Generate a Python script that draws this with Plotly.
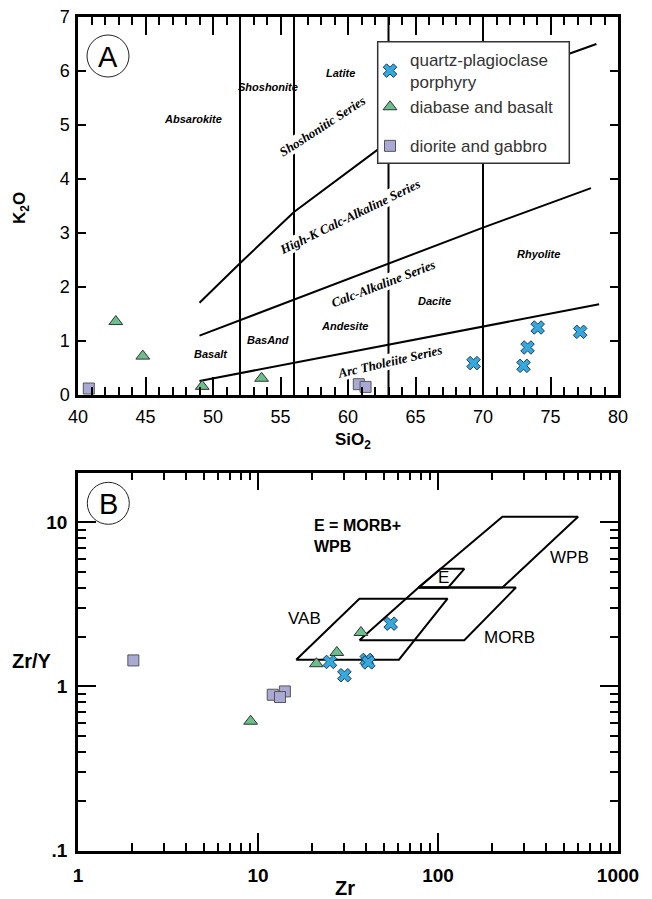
import math
import plotly.graph_objects as go

# ---------------- Panel A data: K2O vs SiO2 ----------------
qpp_sio2 = [69.3, 73.0, 73.3, 74.05, 77.2]
qpp_k2o = [0.59, 0.54, 0.88, 1.25, 1.17]
dia_sio2 = [42.8, 44.8, 49.2, 53.6]
dia_k2o = [1.36, 0.72, 0.16, 0.31]
dio_sio2 = [40.8, 60.8, 61.3]
dio_k2o = [0.12, 0.20, 0.15]

# classification boundaries (Peccerillo & Taylor style)
sio2_dividers = [52, 56, 63, 70]
tholeiite_x = [49, 78.6]
tholeiite_y = [0.26, 1.68]
calcalk_x = [49, 56, 63, 70, 78]
calcalk_y = [1.10, 1.77, 2.44, 3.10, 3.83]
highk_x = [49, 52, 56, 62.5, 70, 78.4]
highk_y = [1.71, 2.44, 3.39, 4.60, 5.75, 6.50]

# ---------------- Panel B data: Zr/Y vs Zr ----------------
qpp_zr = [54.6, 25.1, 40.2, 41.0, 30.2]
qpp_zry = [2.41, 1.41, 1.45, 1.40, 1.17]
dia_zr = [37.3, 27.4, 21.1, 9.1]
dia_zry = [2.13, 1.61, 1.375, 0.614]
dio_zr = [2.03, 12.07, 14.1, 13.25]
dio_zry = [1.44, 0.89, 0.932, 0.862]

wpb_zr = [78, 228, 600, 228, 78]
wpb_zry = [4.0, 10.8, 10.8, 4.0, 4.0]
morb_zr = [36.6, 78, 271, 140, 36.6]
morb_zry = [1.91, 4.0, 4.0, 1.91, 1.91]
e_zr = [78, 103.5, 140, 114, 78]
e_zry = [4.0, 5.2, 5.2, 4.0, 4.0]
vab_zr = [16.3, 36.6, 113, 60.7, 16.3]
vab_zry = [1.455, 3.42, 3.42, 1.455, 1.455]

series_names = ["quartz-plagioclase<br>porphyry", "diabase and basalt", "diorite and gabbro"]

# the page body adds an 8 px margin; the figure is sized so page pixels map onto it
OFF = 8
W, H = 652 - OFF, 899 - OFF
def px(x):
    return (x - OFF) / W
def py(y):
    return 1 - (y - OFF) / H

ARIAL = "Liberation Sans, Arial, sans-serif"
SERIF = "Liberation Serif, Times New Roman, serif"

cross_style = dict(symbol="x", size=12, color="#35a9dd", line=dict(color="#1c3c5c", width=1))
tri_style = dict(symbol="triangle-up", size=12, color="#6abf8c", line=dict(color="#333333", width=1))
sq_style = dict(symbol="square", size=11, color="#a9a9d4", line=dict(color="#555555", width=1))

fig = go.Figure()

# boundary lines (panel A)
for bx, by in [(tholeiite_x, tholeiite_y), (calcalk_x, calcalk_y), (highk_x, highk_y)]:
    fig.add_trace(go.Scatter(x=bx, y=by, mode="lines", line=dict(color="black", width=2),
                             showlegend=False, hoverinfo="skip", xaxis="x", yaxis="y"))

# fields (panel B)
for fx, fy in [(wpb_zr, wpb_zry), (morb_zr, morb_zry), (e_zr, e_zry), (vab_zr, vab_zry)]:
    fig.add_trace(go.Scatter(x=fx, y=fy, mode="lines", line=dict(color="black", width=2),
                             showlegend=False, hoverinfo="skip", xaxis="x2", yaxis="y2"))

# data points panel A
fig.add_trace(go.Scatter(x=qpp_sio2, y=qpp_k2o, mode="markers", marker=cross_style,
                         name=series_names[0], legendgroup="g1", xaxis="x", yaxis="y"))
fig.add_trace(go.Scatter(x=dia_sio2, y=dia_k2o, mode="markers", marker=tri_style,
                         name=series_names[1], legendgroup="g1", xaxis="x", yaxis="y"))
fig.add_trace(go.Scatter(x=dio_sio2, y=dio_k2o, mode="markers", marker=sq_style,
                         name=series_names[2], legendgroup="g2", xaxis="x", yaxis="y"))
# data points panel B
fig.add_trace(go.Scatter(x=dio_zr, y=dio_zry, mode="markers", marker=sq_style,
                         showlegend=False, legendgroup="g2", xaxis="x2", yaxis="y2"))
fig.add_trace(go.Scatter(x=dia_zr, y=dia_zry, mode="markers", marker=tri_style,
                         showlegend=False, legendgroup="g1", xaxis="x2", yaxis="y2"))
fig.add_trace(go.Scatter(x=qpp_zr, y=qpp_zry, mode="markers", marker=cross_style,
                         showlegend=False, legendgroup="g1", xaxis="x2", yaxis="y2"))

shapes = []
for xv in sio2_dividers:
    shapes.append(dict(type="line", xref="x", yref="y", x0=xv, x1=xv, y0=0, y1=7,
                       line=dict(color="black", width=2), layer="below"))
# legend box
shapes.append(dict(type="rect", xref="paper", yref="paper", x0=px(377.7), x1=px(569.3),
                   y0=py(163.3), y1=py(41.7), fillcolor="white",
                   line=dict(color="#333333", width=1.5), layer="above"))
# panel circles
for cx, cy in [(108, 56), (108.3, 503.3)]:
    shapes.append(dict(type="circle", xref="paper", yref="paper", x0=px(cx - 21), x1=px(cx + 21),
                       y0=py(cy + 21), y1=py(cy - 21), line=dict(color="#222222", width=1)))

ann = []
def add_text(text, x, y, size, family=ARIAL, angle=0, bg=None, xanchor="center", align="center", color="black"):
    d = dict(text=text, x=px(x), y=py(y), xref="paper", yref="paper", showarrow=False,
             font=dict(size=size, family=family, color=color), textangle=angle,
             xanchor=xanchor, yanchor="middle", align=align, borderpad=0)
    if bg:
        d["bgcolor"] = bg
    ann.append(d)

add_text("A", 108, 57, 29)
add_text("B", 108.3, 504, 29)

# region names panel A
for t, x, y in [("Absarokite", 193, 119), ("Shoshonite", 268, 87), ("Latite", 340, 73),
                ("Basalt", 211, 354), ("BasAnd", 268, 340), ("Andesite", 344, 326),
                ("Dacite", 434, 301), ("Rhyolite", 538, 254)]:
    add_text("<b><i>" + t + "</i></b>", x, y, 11, ARIAL)

for t, x, y, a in [("Shoshonitic Series", 322, 127, -33),
                   ("High-K Calc-Alkaline Series", 350, 216, -26),
                   ("Calc-Alkaline Series", 383, 283, -21),
                   ("Arc Tholeiite Series", 390, 361, -13)]:
    add_text("<b><i>" + t + "</i></b>", x, y, 13, SERIF, angle=a, bg="white")

add_text("<b>K<sub>2</sub>O</b>", 21, 208, 17, angle=-90)
add_text("<b>SiO<sub>2</sub></b>", 353, 441, 17)

# panel B texts
add_text("<b>E = MORB+<br>WPB</b>", 313, 536, 16, xanchor="left", align="left")
add_text("WPB", 569, 557, 17)
add_text("E", 444, 577, 17)
add_text("VAB", 304, 618, 17)
add_text("MORB", 509, 637, 17)
add_text("<b>Zr/Y</b>", 32, 661, 20)
add_text("<b>Zr</b>", 345, 888, 20)

minor_log = [k * 10 ** e for e in range(-1, 3) for k in range(2, 10)]

axis_common = dict(showline=True, linewidth=2.5, linecolor="black", mirror="ticks",
                   ticks="inside", tickcolor="black", tickwidth=1.5, showgrid=False,
                   zeroline=False, automargin=False, ticklabeloverflow="allow")

fig.update_layout(
    width=W, height=H, margin=dict(l=0, r=0, t=0, b=0, pad=0, autoexpand=False),
    paper_bgcolor="white", plot_bgcolor="white",
    xaxis=dict(domain=[px(78), px(618)], range=[40, 80], anchor="y",
               tickmode="linear", tick0=40, dtick=5, ticklen=18,
               minor=dict(ticks="inside", dtick=1, ticklen=8, tickcolor="black", tickwidth=1.5, showgrid=False),
               tickfont=dict(size=18, family=ARIAL, color="black"), ticklabelstandoff=4,
               **axis_common),
    yaxis=dict(domain=[py(395), py(17)], range=[0, 7], anchor="x",
               tickmode="linear", tick0=0, dtick=1, ticklen=8,
               tickfont=dict(size=18, family=ARIAL, color="black"), ticklabelstandoff=2,
               **axis_common),
    xaxis2=dict(domain=[px(78), px(618)], type="log", range=[0, 3], anchor="y2",
                tickmode="array", tickvals=[1, 10, 100, 1000], ticktext=["1", "10", "100", "1000"],
                ticklen=18,
                minor=dict(ticks="inside", tickmode="array", tickvals=minor_log, ticklen=8,
                           tickcolor="black", tickwidth=1.5, showgrid=False),
                tickfont=dict(size=19, family=ARIAL, color="black", weight="bold"), ticklabelstandoff=6,
                **axis_common),
    yaxis2=dict(domain=[py(850.7), py(472.7)], type="log", range=[-1, math.log10(20)], anchor="x2",
                tickmode="array", tickvals=[0.1, 1, 10], ticktext=[".1", "1", "10"],
                ticklen=18,
                minor=dict(ticks="inside", tickmode="array", tickvals=minor_log, ticklen=8,
                           tickcolor="black", tickwidth=1.5, showgrid=False),
                tickfont=dict(size=19, family=ARIAL, color="black", weight="bold"), ticklabelstandoff=4,
                **axis_common),
    legend=dict(x=px(370), y=py(42), xanchor="left", yanchor="top",
                bgcolor="rgba(0,0,0,0)", borderwidth=0,
                font=dict(size=17, family=ARIAL, color="#333333"),
                traceorder="grouped", tracegroupgap=14),
    shapes=shapes,
    annotations=ann,
)

fig.write_html("out.html")
